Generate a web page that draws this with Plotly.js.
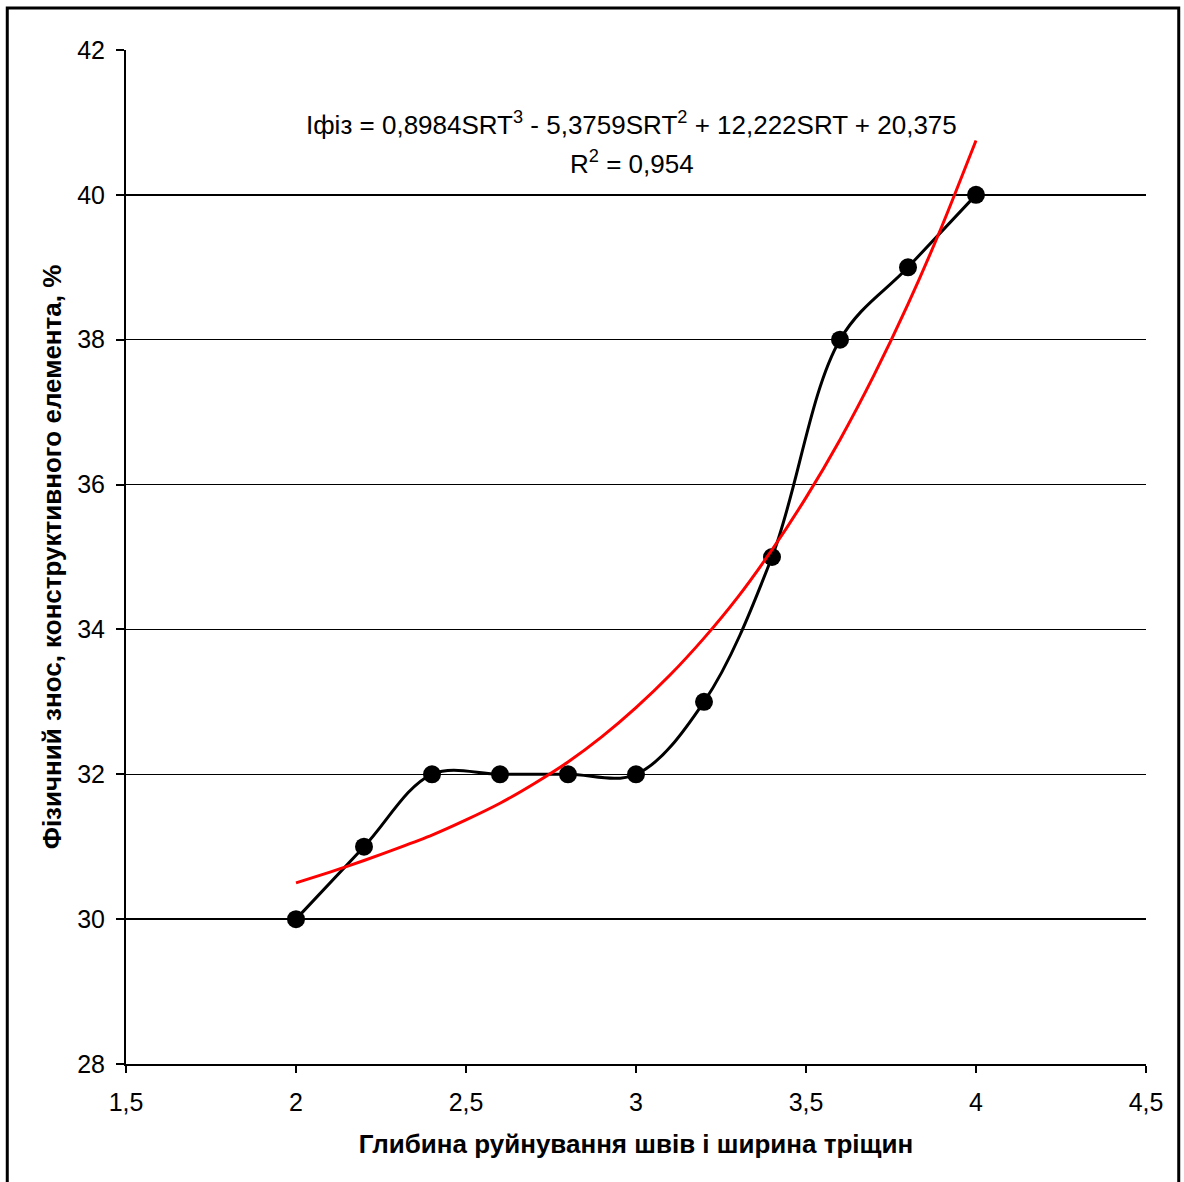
<!DOCTYPE html>
<html>
<head>
<meta charset="utf-8">
<script src="https://cdn.plot.ly/plotly-3.0.1.min.js"></script>
<style>html,body{margin:0;padding:0;background:#fff;}#chart{width:1184px;height:1182px;}</style>
</head>
<body>
<div id="chart"></div>
<script>
// Data
const depth = [2, 2.2, 2.4, 2.6, 2.8, 3, 3.2, 3.4, 3.6, 3.8, 4];
const wear = [30, 31, 32, 32, 32, 32, 33, 35, 38, 39, 40];
// Red trend curve
const trendX = [2, 2.1, 2.2, 2.3, 2.4, 2.5, 2.6, 2.7, 2.8, 2.9, 3, 3.1, 3.2, 3.3, 3.4, 3.5, 3.6, 3.7, 3.8, 3.9, 4];
const trendY = [30.5, 30.65, 30.81, 30.98, 31.16, 31.37, 31.6, 31.87, 32.17, 32.52, 32.92, 33.37, 33.88, 34.45, 35.1, 35.82, 36.62, 37.51, 38.49, 39.57, 40.75];
const xTicks = [1.5, 2, 2.5, 3, 3.5, 4, 4.5];
const xTickText = ['1,5', '2', '2,5', '3', '3,5', '4', '4,5'];
const yTicks = [28, 30, 32, 34, 36, 38, 40, 42];
const eqLine1 = 'Iфіз = 0,8984SRT<sup>3</sup> - 5,3759SRT<sup>2</sup> + 12,222SRT + 20,375';
const eqLine2 = 'R<sup>2</sup> = 0,954';
const xTitle = 'Глибина руйнування швів і ширина тріщин';
const yTitle = 'Фізичний знос, конструктивного елемента, %';

const font = 'Liberation Sans, Arial, sans-serif';

const traces = [
  {
    x: depth, y: wear, type: 'scatter', mode: 'lines+markers',
    line: {color: '#000', width: 3, shape: 'spline', smoothing: 1},
    marker: {color: '#000', size: 18},
    hoverinfo: 'skip'
  },
  {
    x: trendX, y: trendY, type: 'scatter', mode: 'lines',
    line: {color: '#ff0000', width: 3, shape: 'spline', smoothing: 0.6},
    hoverinfo: 'skip'
  }
];

const layout = {
  width: 1184, height: 1182,
  margin: {l: 126, r: 38, t: 50, b: 118},
  paper_bgcolor: '#fff', plot_bgcolor: '#fff',
  showlegend: false,
  font: {family: font, color: '#000', size: 25},
  xaxis: {
    range: [1.5, 4.5], tickvals: xTicks, ticktext: xTickText,
    showgrid: false, zeroline: false,
    showline: true, linecolor: '#000', linewidth: 2,
    ticks: 'outside', ticklen: 7, tickwidth: 2, tickcolor: '#000',
    ticklabelstandoff: 8,
    tickfont: {family: font, size: 25, color: '#000'},
    title: {text: xTitle, font: {family: font, size: 26, color: '#000', weight: 'bold'}, standoff: 20}
  },
  yaxis: {
    range: [28, 42], tickvals: yTicks,
    showgrid: true, gridcolor: '#000', gridwidth: 1.5,
    zeroline: false,
    showline: true, linecolor: '#000', linewidth: 2,
    ticks: 'outside', ticklen: 8, tickwidth: 2, tickcolor: '#000',
    ticklabelstandoff: 6,
    tickfont: {family: font, size: 25, color: '#000'},
    title: {text: yTitle, font: {family: font, size: 26, color: '#000', weight: 'bold'}, standoff: 8}
  },
  annotations: [
    {xref: 'paper', yref: 'paper', x: 0.496, y: 0.928, text: eqLine1, showarrow: false,
     font: {family: font, size: 26, color: '#000'}, xanchor: 'center', yanchor: 'middle'},
    {xref: 'paper', yref: 'paper', x: 0.496, y: 0.889, text: eqLine2, showarrow: false,
     font: {family: font, size: 26, color: '#000'}, xanchor: 'center', yanchor: 'middle'}
  ],
  shapes: [
    {type: 'rect', xref: 'paper', yref: 'paper',
     x0: -0.1164, x1: 1.0321, y0: -0.12, y1: 1.0414,
     line: {color: '#000', width: 3}, fillcolor: 'rgba(0,0,0,0)', layer: 'below'}
  ]
};

Plotly.newPlot('chart', traces, layout, {staticPlot: true, displayModeBar: false});
</script>
</body>
</html>
